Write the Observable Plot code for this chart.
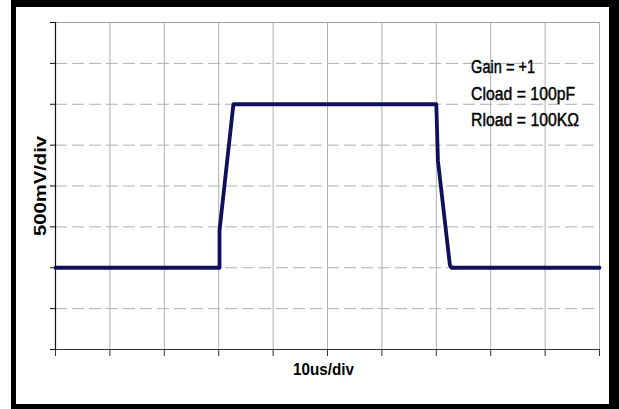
<!DOCTYPE html>
<html>
<head>
<meta charset="utf-8">
<script src="https://cdn.jsdelivr.net/npm/d3@7"></script>
<script src="https://cdn.jsdelivr.net/npm/@observablehq/plot@0.6"></script>
<style>
  html, body { margin: 0; padding: 0; background: #fff; }
  #wrap { position: relative; width: 619px; height: 409px; overflow: hidden; }
  #chart { position: absolute; left: 0; top: 0; }
  #frame { position: absolute; left: 11px; top: 0; width: 608px; height: 409px; box-sizing: border-box;
           border-style: solid; border-color: #000; border-width: 7px 10px 5px 5px; pointer-events: none; }
</style>
</head>
<body>
<div id="wrap"><div id="chart"></div><div id="frame"></div></div>
<script>
// Time axis (µs) — 10 µs/div, 10 divisions
const xTicks = [0, 10, 20, 30, 40, 50, 60, 70, 80, 90, 100];
// Voltage axis (V) — 500 mV/div, 8 divisions
const yTicks = [0, 0.5, 1, 1.5, 2, 2.5, 3, 3.5, 4];
// Pulse waveform samples
const timeUs = [0, 30.15, 30.15, 32.7, 70.0, 70.3, 72.5, 72.8, 100];
const volts  = [1.0, 1.0, 1.455, 3.0, 3.0, 2.31, 1.03, 1.0, 1.0];
// Annotation
const noteLines = ["Gain = +1", "Cload = 100pF", "Rload = 100KΩ"];
const noteX = 76.4, noteY = 3.38, noteStep = 0.3255;
const yLabel = "500mV/div";
const xLabel = "10us/div";

// rendered text widths (px) of the condensed lettering in the picture
const textWidths = new Map([
  ["Gain = +1", 64], ["Cload = 100pF", 104], ["Rload = 100KΩ", 108],
  ["500mV/div", 100], ["10us/div", 61]
]);

const signal = timeUs.map((t, i) => ({t, v: volts[i]}));
const notes = noteLines.map((s, i) => ({s, x: noteX, y: noteY - i * noteStep}));
const gridColor = "#b0b0b0";

const chart = Plot.plot({
  width: 619,
  height: 409,
  marginLeft: 55,
  marginRight: 20,
  marginTop: 22,
  marginBottom: 60,
  style: {background: "transparent", fontFamily: "'Liberation Sans', Arial, sans-serif"},
  x: {domain: [0, 100]},
  y: {domain: [0, 4]},
  marks: [
    Plot.ruleX(xTicks, {stroke: gridColor, strokeWidth: 1}),
    Plot.ruleY(yTicks.filter(v => v > 0 && v < 4), {stroke: gridColor, strokeDasharray: "12,5"}),
    Plot.ruleY([4], {stroke: "#a0a0a0"}),
    Plot.axisX({ticks: xTicks, tickFormat: () => "", tickSize: 7, stroke: "#333", label: null}),
    Plot.axisY({ticks: yTicks, tickFormat: () => "", tickSize: 5, stroke: "#111", label: null}),
    Plot.ruleY([0], {stroke: "#333", strokeWidth: 1.2}),
    Plot.ruleX([0], {stroke: "#111", strokeWidth: 1.2}),
    Plot.line(signal, {x: "t", y: "v", stroke: "#0f0f5c", strokeWidth: 3.8, strokeLinejoin: "round"}),
    Plot.text(notes, {x: "x", y: "y", text: "s", textAnchor: "start", lineAnchor: "bottom",
      fontSize: 18, fill: "#000", stroke: "#000", strokeWidth: 0.45}),
    Plot.text([yLabel], {frameAnchor: "left", dx: -15, rotate: -90, text: d => d, fontSize: 16,
      fontWeight: "bold", fill: "#000", textAnchor: "middle", lineAnchor: "middle"}),
    Plot.text([xLabel], {frameAnchor: "bottom", dy: 20, dx: -4, text: d => d, fontSize: 17,
      fontWeight: "bold", fill: "#000", textAnchor: "middle", lineAnchor: "middle"})
  ]
});
d3.select(chart).selectAll("text").each(function() {
  const w = textWidths.get(this.textContent);
  if (w) {
    this.setAttribute("textLength", w);
    this.setAttribute("lengthAdjust", "spacingAndGlyphs");
  }
});
document.getElementById("chart").appendChild(chart);
</script>
</body>
</html>
